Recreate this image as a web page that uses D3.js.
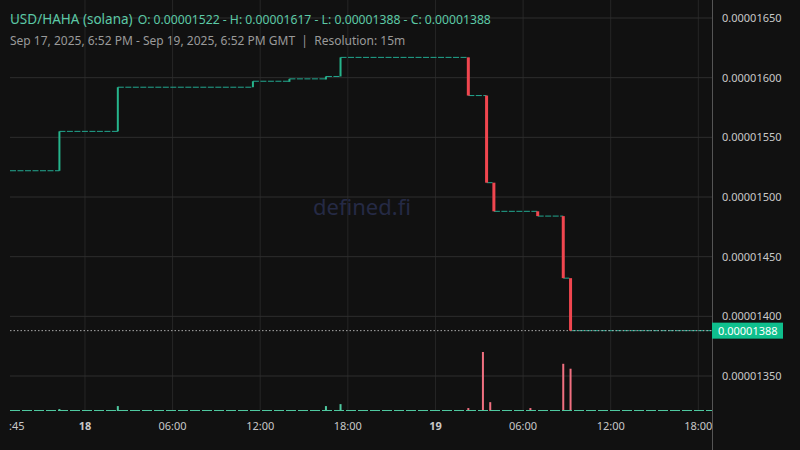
<!DOCTYPE html>
<html><head><meta charset="utf-8">
<script src="https://cdn.jsdelivr.net/npm/d3@7"></script>
<style>body{margin:0;background:#111}svg{display:block}</style>
</head><body><svg id="c" width="800" height="450"></svg>
<script>
// price steps: time of the move and close price after it
const stepTimes = ["2025-09-17T18:52Z","2025-09-17T22:15Z","2025-09-18T02:15Z","2025-09-18T11:30Z","2025-09-18T14:00Z","2025-09-18T16:30Z","2025-09-18T17:30Z",
  "2025-09-19T02:15Z","2025-09-19T03:30Z","2025-09-19T04:00Z","2025-09-19T07:00Z","2025-09-19T08:45Z","2025-09-19T09:15Z"];
const stepClose = [1522,1555,1592,1597,1599,1601,1617,1585,1512,1488,1484,1432,1388];
// volume spikes
const volTimes = ["2025-09-17T22:15Z","2025-09-18T02:15Z","2025-09-18T16:30Z","2025-09-18T17:30Z","2025-09-19T02:15Z","2025-09-19T03:15Z","2025-09-19T03:45Z","2025-09-19T06:30Z","2025-09-19T08:45Z","2025-09-19T09:15Z"];
const volValues = [2, 5, 5, 7, 3, 60, 9, 3, 48, 43];
const volUp = [true, true, true, true, false, false, false, false, false, false];
const priceTicks = [1350,1400,1450,1500,1550,1600,1650];
const lastPrice = 1388;

const svg = d3.select("#c");
const green = "#26b58c", red = "#f0464f", teal = "#22a890";
const x = d3.scaleUtc().domain([new Date("2025-09-17T18:52Z"), new Date("2025-09-19T18:52Z")]).range([10, 711]);
const y = d3.scaleLinear().domain([1350, 1650]).range([376, 18]);
const yv = d3.scaleLinear().domain([0, 60]).range([411, 352]);
const fmt = v => (v / 1e8).toFixed(8);

svg.append("rect").attr("width", 800).attr("height", 450).attr("fill", "#111");

// grid
const xTicks = d3.utcHour.every(6).range(new Date("2025-09-18T00:00Z"), new Date("2025-09-19T19:00Z"));
svg.append("g").selectAll("line").data(xTicks).join("line")
  .attr("x1", d => x(d)).attr("x2", d => x(d)).attr("y1", 0).attr("y2", 411)
  .attr("stroke", "#262626");
svg.append("g").selectAll("line").data(priceTicks).join("line")
  .attr("x1", 10).attr("x2", 712).attr("y1", d => y(d)).attr("y2", d => y(d))
  .attr("stroke", "#2e2e2e");

// watermark
svg.append("text").attr("x", 362).attr("y", 215).attr("text-anchor", "middle")
  .attr("font-family", "Noto Sans").attr("font-size", 22).attr("fill", "#252a45").text("defined.fi");

// volume bars
const vols = volTimes.map((t, i) => ({t: new Date(t), v: volValues[i], up: volUp[i]}));
svg.append("g").selectAll("rect").data(vols).join("rect")
  .attr("x", d => x(d.t) - 1).attr("width", 2)
  .attr("y", d => yv(d.v)).attr("height", d => 411 - yv(d.v))
  .attr("fill", d => d.up ? "#4fc9a0" : "#f07080");
svg.append("line").attr("x1", 10).attr("x2", 712).attr("y1", 410.5).attr("y2", 410.5)
  .attr("stroke", "#4fc9a0").attr("stroke-dasharray", "10,2");

// flat segments
const steps = stepTimes.map((t, i) => ({t: new Date(t), c: stepClose[i], o: i ? stepClose[i - 1] : stepClose[0]}));
const end = x.domain()[1];
svg.append("g").selectAll("line").data(steps).join("line")
  .attr("x1", d => x(d.t)).attr("x2", (d, i) => i < steps.length - 1 ? x(steps[i + 1].t) : x(end))
  .attr("y1", d => y(d.c)).attr("y2", d => y(d.c))
  .attr("stroke", teal).attr("stroke-width", 1).attr("stroke-dasharray", "6,1.5");

// last price dotted line
svg.append("line").attr("x1", 10).attr("x2", 712).attr("y1", y(lastPrice)).attr("y2", y(lastPrice))
  .attr("stroke", "#aaa").attr("stroke-dasharray", "1.5,2");

// candle bodies
const moves = steps.slice(1);
svg.append("g").selectAll("rect").data(moves).join("rect")
  .attr("x", d => x(d.t) - (d.c > d.o ? 1 : 1.5)).attr("width", d => d.c > d.o ? 2 : 3)
  .attr("y", d => y(Math.max(d.o, d.c))).attr("height", d => Math.max(3, Math.abs(y(d.o) - y(d.c))))
  .attr("fill", d => d.c > d.o ? green : red);

// right axis
svg.append("line").attr("x1", 712.5).attr("x2", 712.5).attr("y1", 0).attr("y2", 450).attr("stroke", "#555");
svg.append("g").selectAll("text").data(priceTicks).join("text")
  .attr("x", 722).attr("y", d => y(d) + 4).attr("font-family", "Noto Sans").attr("font-size", 11)
  .attr("fill", "#c8c8c8").text(fmt);
svg.append("rect").attr("x", 712).attr("y", y(lastPrice) - 8).attr("width", 71).attr("height", 16).attr("fill", "#0fbf8d");
svg.append("text").attr("x", 718).attr("y", y(lastPrice) + 4).attr("font-family", "Noto Sans").attr("font-size", 11)
  .attr("fill", "#fff").text(fmt(lastPrice));

// bottom axis labels
const xl = svg.append("g").attr("font-family", "Noto Sans").attr("font-size", 11).attr("fill", "#c8c8c8");
xl.selectAll("text").data(xTicks).join("text")
  .attr("x", d => x(d)).attr("y", 430).attr("text-anchor", "middle")
  .attr("font-weight", d => d.getUTCHours() === 0 ? "bold" : null)
  .text(d => d.getUTCHours() === 0 ? d.getUTCDate() : d3.utcFormat("%H:%M")(d));
xl.append("text").attr("x", 9).attr("y", 430).text(":45");

// header
svg.append("text").attr("x", 10).attr("y", 24).attr("font-family", "Noto Sans").attr("fill", "#5cc9a6")
  .html('<tspan font-size="13.5">USD/HAHA (solana)</tspan><tspan font-size="12.2" dx="5">O: 0.00001522 - H: 0.00001617 - L: 0.00001388 - C: 0.00001388</tspan>');
svg.append("text").attr("x", 10).attr("y", 45).attr("font-family", "Noto Sans").attr("font-size", 12).attr("fill", "#9a9a9a")
  .attr("xml:space", "preserve").text("Sep 17, 2025, 6:52 PM - Sep 19, 2025, 6:52 PM GMT  |  Resolution: 15m");
</script></body></html>
